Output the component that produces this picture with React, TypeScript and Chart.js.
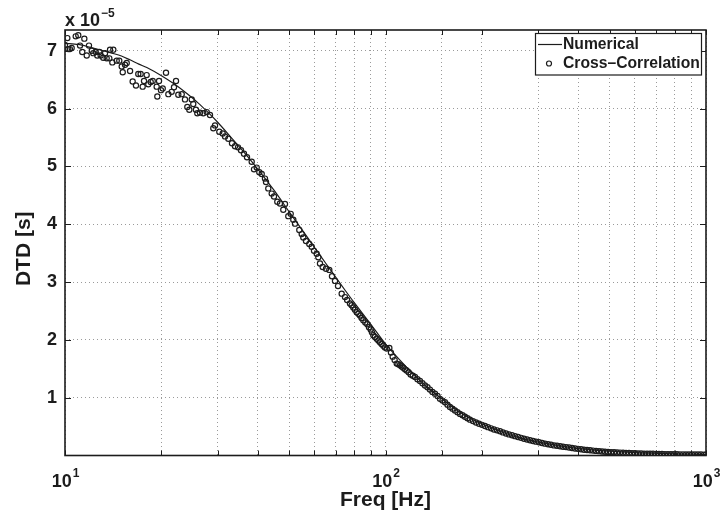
import { useEffect, useRef } from "react";
import { Chart, registerables } from "chart.js";

Chart.register(...registerables);

// Numerical DTD curve (values in units of 1e-5 s)
const numericalFreqHz = [10, 11, 12, 13, 14, 15, 16, 17, 18, 20, 22, 24, 26, 28, 30, 33, 36, 40, 45, 50, 55, 60, 65, 70, 75, 80, 90, 100, 110, 120, 135, 150, 175, 200, 250, 300, 350, 400, 500, 600, 700, 800, 900, 1000];
const numericalDTD = [7.13, 7.11, 7.06, 7.01, 6.96, 6.91, 6.84, 6.77, 6.71, 6.57, 6.42, 6.26, 6.1, 5.93, 5.76, 5.5, 5.26, 4.95, 4.58, 4.22, 3.9, 3.6, 3.33, 3.08, 2.85, 2.64, 2.27, 1.93, 1.67, 1.45, 1.18, 0.98, 0.71, 0.55, 0.34, 0.23, 0.165, 0.12, 0.075, 0.05, 0.037, 0.028, 0.022, 0.018];

// Cross-correlation estimates (values in units of 1e-5 s)
const crossCorrFreqHz = [
  10.0, 10.17, 10.24, 10.36, 10.49, 10.8, 11.0, 11.14, 11.32, 11.49, 11.69, 11.88, 12.12, 12.25, 12.47, 12.61, 12.8, 12.92, 13.16, 13.33,
  13.49, 13.75, 13.82, 14.05, 14.15, 14.5, 14.77, 15.03, 15.14, 15.39, 15.58, 15.96, 16.26, 16.65, 16.93, 17.22, 17.47, 17.64, 17.98, 18.19,
  18.51, 18.78, 19.32, 19.41, 19.65, 19.93, 20.18, 20.66, 21.01, 21.52, 21.88, 22.2, 22.57, 23.13, 23.68, 24.08, 24.43, 24.85, 25.13, 25.62,
  25.87, 26.37, 27.01, 27.68, 28.34, 29.02, 29.38, 30.3, 31.05, 31.57, 32.33, 33.19, 33.92, 34.66, 35.41, 36.18, 36.97, 38.24, 38.88, 39.64,
  40.39, 41.09, 42.07, 42.38, 43.08, 44.15, 44.88, 45.96, 46.86, 47.98, 48.57, 49.74, 50.61, 51.56, 52.2, 53.83, 54.77, 55.4, 56.48, 57.84,
  58.85, 59.83, 61.0, 61.71, 62.46, 63.68, 65.22, 66.78, 68.08, 69.57, 71.09, 72.99, 74.74, 77.48, 79.34, 81.3, 83.25, 85.25, 87.74, 89.91,
  91.61, 93.87, 96.11, 98.42, 100.9, 102.8, 105.3, 108.4, 111.0, 113.6, 116.4, 119.8, 123.6, 128.1, 132.8, 137.6, 142.7, 147.9, 153.3, 158.9,
  164.7, 170.8, 177.0, 183.5, 191.6, 200.0, 208.8, 218.0, 227.7, 237.7, 248.2, 259.1, 270.5, 282.4, 294.9, 307.9, 321.4, 335.6, 350.4, 365.8,
  381.9, 398.7, 416.3, 434.6, 453.8, 473.8, 494.6, 516.4, 539.1, 562.9, 587.7, 613.6, 640.6, 668.8, 698.2, 728.9, 761.0, 794.5, 829.5, 866.0,
  904.2, 944.1, 985.8,
];
const crossCorrDTD = [
  7.1, 7.22, 7.03, 7.03, 7.05, 7.25, 7.27, 7.09, 6.98, 7.21, 6.92, 7.09, 7.0, 6.96, 6.98, 6.92, 6.98, 6.92, 6.88, 6.96,
  6.87, 6.87, 7.02, 6.8, 7.02, 6.83, 6.83, 6.73, 6.63, 6.76, 6.79, 6.65, 6.47, 6.4, 6.6, 6.6, 6.38, 6.48, 6.58, 6.42,
  6.46, 6.48, 6.38, 6.21, 6.48, 6.32, 6.35, 6.62, 6.25, 6.29, 6.37, 6.48, 6.24, 6.25, 6.16, 6.03, 5.98, 6.16, 6.08, 5.98,
  5.92, 5.93, 5.92, 5.94, 5.89, 5.66, 5.71, 5.6, 5.57, 5.52, 5.48, 5.4, 5.35, 5.33, 5.28, 5.22, 5.16, 5.08, 4.95, 4.98,
  4.9, 4.87, 4.79, 4.73, 4.62, 4.53, 4.48, 4.39, 4.36, 4.25, 4.35, 4.14, 4.18, 4.08, 4.01, 3.9, 3.83, 3.77, 3.71, 3.66,
  3.61, 3.54, 3.49, 3.43, 3.32, 3.26, 3.23, 3.21, 3.1, 3.02, 2.93, 2.8, 2.74, 2.63, 2.56, 2.48, 2.42, 2.34, 2.27, 2.18,
  2.08, 2.02, 1.96, 1.9, 1.85, 1.86, 1.71, 1.59, 1.56, 1.52, 1.47, 1.4, 1.36, 1.29, 1.21, 1.14, 1.07, 0.98, 0.92, 0.84,
  0.78, 0.72, 0.67, 0.62, 0.57, 0.53, 0.49, 0.45, 0.42, 0.38, 0.35, 0.32, 0.29, 0.265, 0.24, 0.215, 0.195, 0.175, 0.16, 0.145,
  0.13, 0.115, 0.1, 0.09, 0.08, 0.07, 0.06, 0.055, 0.05, 0.045, 0.04, 0.035, 0.032, 0.03, 0.027, 0.025, 0.023, 0.021, 0.02, 0.019,
  0.018, 0.017, 0.016,
];
// Extra cross-correlation estimates read from the dense 75–150 Hz stretch
const crossCorrMidFreqHz = [75.9, 78.4, 80.3, 82.3, 84.2, 86.5, 88.8, 90.7, 92.7, 95.0, 97.2, 99.6, 104.0, 106.8, 109.7, 112.3, 115.0, 118.1, 121.7, 125.8, 130.4, 135.2, 140.1, 145.3];
const crossCorrMidDTD = [2.69, 2.6, 2.52, 2.45, 2.38, 2.3, 2.22, 2.13, 2.05, 1.99, 1.93, 1.87, 1.78, 1.65, 1.58, 1.54, 1.49, 1.44, 1.38, 1.32, 1.25, 1.18, 1.1, 1.03];
// Extra cross-correlation estimates read from the dense high-frequency band
const crossCorrTailFreqHz = [
  150.6, 156.1, 161.8, 167.7, 173.9, 180.2, 187.5, 195.8, 204.4, 213.4, 222.8, 232.6, 242.9, 253.6, 264.8, 276.4, 288.6, 301.3, 314.6, 328.4,
  342.9, 358.0, 373.8, 390.2, 407.4, 425.4, 444.1, 463.7, 484.1, 505.4, 527.7, 550.9, 575.2, 600.5, 627.0, 654.6, 683.4, 713.4, 744.8, 777.6,
  811.8, 847.6, 884.9, 923.9, 964.6, 1000,
];
const crossCorrTailDTD = [
  0.95, 0.88, 0.81, 0.75, 0.695, 0.645, 0.595, 0.55, 0.51, 0.47, 0.435, 0.4, 0.365, 0.335, 0.305, 0.278, 0.252, 0.228, 0.205, 0.185,
  0.168, 0.152, 0.138, 0.122, 0.108, 0.095, 0.085, 0.075, 0.065, 0.058, 0.052, 0.048, 0.042, 0.038, 0.034, 0.031, 0.029, 0.026, 0.024, 0.022,
  0.021, 0.0195, 0.0185, 0.0175, 0.0165, 0.016,
];

const xTickLabels = [
  { value: 10, base: "10", exp: "1" },
  { value: 100, base: "10", exp: "2" },
  { value: 1000, base: "10", exp: "3" },
];
const yTickValues = [1, 2, 3, 4, 5, 6, 7];
const legendLabels = ["Numerical", "Cross\u2013Correlation"];
const xTitle = "Freq [Hz]";
const yTitle = "DTD [s]";
const yMultiplier = { base: "x 10", exp: "\u22125" };

const FONT = '"Liberation Sans", Arial, Helvetica, sans-serif';
const INK = "#1c1c1c";

const overlayPlugin = {
  id: "matlabOverlay",
  afterDraw(chart: any) {
    const { ctx, chartArea: a, scales } = chart;
    const xs = scales.x;
    const ys = scales.y;
    ctx.save();
    // inward tick marks
    ctx.strokeStyle = INK;
    ctx.lineWidth = 1;
    ctx.beginPath();
    xs.ticks.forEach((t: any) => {
      const px = Math.round(xs.getPixelForValue(t.value)) + 0.5;
      ctx.moveTo(px, a.bottom);
      ctx.lineTo(px, a.bottom - 5);
      ctx.moveTo(px, a.top);
      ctx.lineTo(px, a.top + 5);
    });
    ys.ticks.forEach((t: any) => {
      if (t.value === 0) return;
      const py = Math.round(ys.getPixelForValue(t.value)) + 0.5;
      ctx.moveTo(a.left, py);
      ctx.lineTo(a.left + 6, py);
      ctx.moveTo(a.right, py);
      ctx.lineTo(a.right - 6, py);
    });
    ctx.stroke();
    // frame
    ctx.lineWidth = 1.6;
    ctx.strokeRect(a.left, a.top, a.right - a.left, a.bottom - a.top);

    ctx.fillStyle = INK;
    ctx.textBaseline = "alphabetic";
    // x tick labels with superscripts
    xTickLabels.forEach((lab) => {
      const px = xs.getPixelForValue(lab.value);
      ctx.font = `bold 18px ${FONT}`;
      const w1 = ctx.measureText(lab.base).width;
      ctx.font = `bold 12px ${FONT}`;
      const w2 = ctx.measureText(lab.exp).width;
      const x0 = px - (w1 + w2) / 2;
      ctx.font = `bold 18px ${FONT}`;
      ctx.textAlign = "left";
      ctx.fillText(lab.base, x0, 487);
      ctx.font = `bold 12px ${FONT}`;
      ctx.fillText(lab.exp, x0 + w1 + 1, 477);
    });
    // x title
    ctx.font = `bold 21px ${FONT}`;
    ctx.textAlign = "center";
    ctx.fillText(xTitle, (a.left + a.right) / 2, 506);
    // y title
    ctx.save();
    ctx.translate(30, (a.top + a.bottom) / 2 + 6);
    ctx.rotate(-Math.PI / 2);
    ctx.textAlign = "center";
    ctx.fillText(yTitle, 0, 0);
    ctx.restore();
    // multiplier
    ctx.textAlign = "left";
    ctx.font = `bold 18px ${FONT}`;
    const wm = ctx.measureText(yMultiplier.base).width;
    ctx.fillText(yMultiplier.base, a.left, 26);
    ctx.font = `bold 12px ${FONT}`;
    ctx.fillText(yMultiplier.exp, a.left + wm + 1, 17);

    // legend
    const lx = 535.5, ly = 33.5, lw = 166, lh = 41.5;
    ctx.fillStyle = "#ffffff";
    ctx.fillRect(lx, ly, lw, lh);
    ctx.strokeStyle = INK;
    ctx.lineWidth = 1.2;
    ctx.strokeRect(lx, ly, lw, lh);
    ctx.lineWidth = 1.2;
    ctx.beginPath();
    ctx.moveTo(538, 44.5);
    ctx.lineTo(562, 44.5);
    ctx.stroke();
    ctx.beginPath();
    ctx.lineWidth = 1.2;
    ctx.arc(549, 63.5, 2.5, 0, Math.PI * 2);
    ctx.stroke();
    ctx.fillStyle = INK;
    ctx.font = `bold 15.7px ${FONT}`;
    ctx.textBaseline = "middle";
    ctx.fillText(legendLabels[0], 563, 45);
    ctx.fillText(legendLabels[1], 563, 64);
    ctx.restore();
  },
};

export default function App() {
  const canvasRef = useRef<HTMLCanvasElement | null>(null);

  useEffect(() => {
    document.body.style.margin = "0";
    const canvas = canvasRef.current;
    if (!canvas) return;
    const ccF = crossCorrFreqHz.concat(crossCorrMidFreqHz, crossCorrTailFreqHz);
    const ccV = crossCorrDTD.concat(crossCorrMidDTD, crossCorrTailDTD);
    const chart = new Chart(canvas, {
      type: "scatter",
      data: {
        datasets: [
          {
            label: legendLabels[0],
            data: numericalFreqHz.map((f, i) => ({ x: f, y: numericalDTD[i] })),
            showLine: true,
            borderColor: INK,
            borderWidth: 1.2,
            pointRadius: 0,
            tension: 0.3,
            order: 2,
          },
          {
            label: legendLabels[1],
            data: ccF.map((f, i) => ({ x: f, y: ccV[i] })),
            showLine: false,
            borderColor: INK,
            backgroundColor: "rgba(0,0,0,0)",
            borderWidth: 1.2,
            pointRadius: 2.6,
            order: 1,
          },
        ],
      },
      options: {
        animation: false,
        responsive: false,
        devicePixelRatio: 1,
        layout: { padding: { left: 0, right: 15, top: 30, bottom: 0 } },
        plugins: {
          legend: { display: false },
          tooltip: { enabled: false },
          title: { display: false },
        },
        scales: {
          x: {
            type: "logarithmic",
            min: 10,
            max: 1000,
            afterFit: (s: any) => {
              s.height = 58.5;
            },
            ticks: { display: false, autoSkip: false },
            grid: { color: "#9a9a9a", lineWidth: 1, drawTicks: false },
            border: { display: false, dash: [1, 3] },
          },
          y: {
            type: "linear",
            min: 0,
            max: 7.36,
            afterFit: (s: any) => {
              s.width = 65;
            },
            afterBuildTicks: (s: any) => {
              s.ticks = yTickValues.map((v) => ({ value: v }));
            },
            ticks: {
              font: { family: FONT, size: 18, weight: "bold" },
              color: INK,
              padding: 8,
              callback: (v: any) => String(v),
            },
            grid: { color: "#9a9a9a", lineWidth: 1, drawTicks: false },
            border: { display: false, dash: [1, 3] },
          },
        },
      },
      plugins: [overlayPlugin],
    } as any);
    return () => chart.destroy();
  }, []);

  return (
    <div style={{ width: 721, height: 514, background: "#fff" }}>
      <canvas ref={canvasRef} width={721} height={514} style={{ display: "block" }} />
    </div>
  );
}
